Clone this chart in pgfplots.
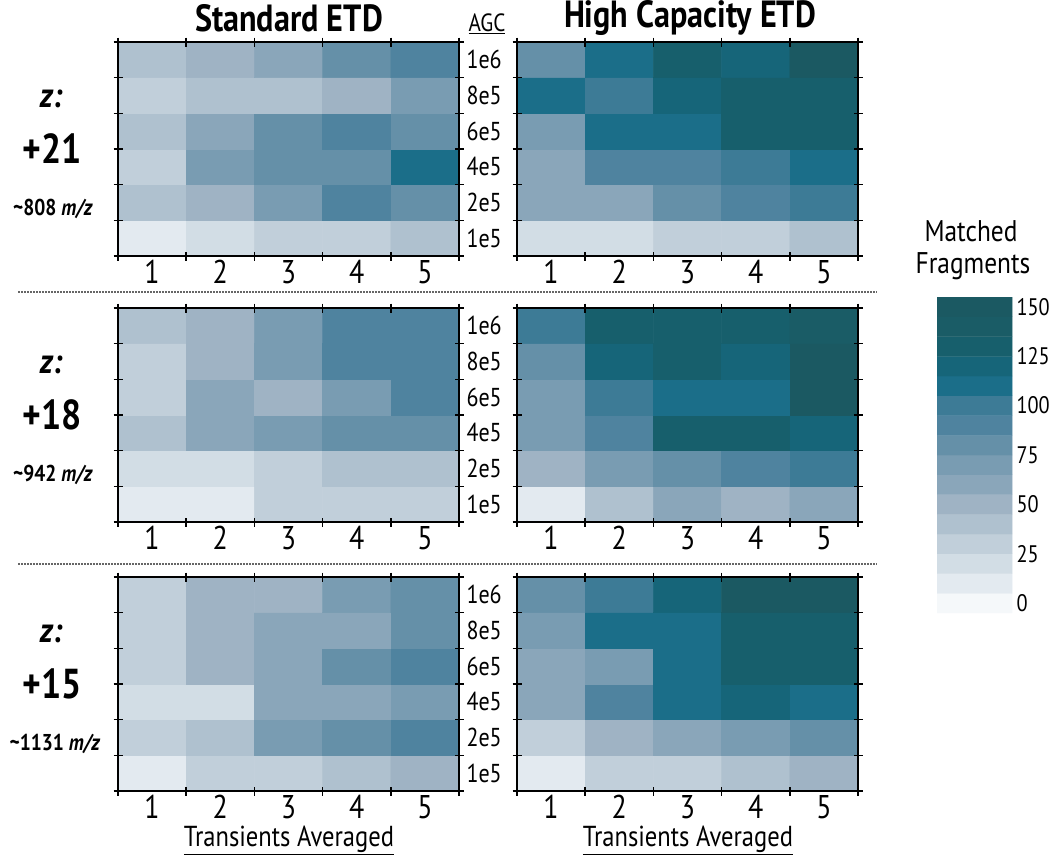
\documentclass[border=0pt]{standalone}
\usepackage{fontspec}
\setmainfont{PT Sans}[FakeStretch=0.85]
\usepackage{pgfplots}
\pgfplotsset{compat=1.18}

\pgfplotsset{
  fragcm/.style={
    colormap={frag}{rgb255=(245,248,250) rgb255=(227,234,240) rgb255=(210,221,229)
      rgb255=(193,207,218) rgb255=(175,193,207) rgb255=(159,179,196) rgb255=(138,166,186)
      rgb255=(121,156,178) rgb255=(101,144,168) rgb255=(79,131,159) rgb255=(61,123,150)
      rgb255=(27,110,137) rgb255=(22,101,121) rgb255=(23,95,108) rgb255=(26,92,102)
      rgb255=(27,89,98)},
    point meta min=0, point meta max=150,
  },
  hm/.style={
    fragcm,
    scale only axis, width=341bp, height=214bp,
    xmin=0.5, xmax=5.5, ymin=-0.5, ymax=5.5,
    axis on top,
    axis line style={line width=2.4bp},
    xtick={1,2,3,4,5}, xticklabels={1,2,3,4,5},
    ytick={0,1,2,3,4,5},
    minor xtick={0.5,1.5,2.5,3.5,4.5,5.5},
    minor ytick={-0.5,0.5,1.5,2.5,3.5,4.5,5.5},
    major tick length=0pt, minor tick length=9bp,
    tick align=center,
    every minor tick/.style={line width=1.6bp, black},
    /pgf/number format/assume math mode=true,
    xticklabel style={font=\fontsize{33}{33}\selectfont, yshift=-1bp},
    yticklabel style={font=\fontsize{26}{26}\selectfont},
  },
  leftp/.style={hm, yticklabels={1e5,2e5,4e5,6e5,8e5,1e6}, yticklabel pos=right,
    yticklabel style={xshift=4bp}},
  rightp/.style={hm, yticklabels={}},
  cells/.style={matrix plot*, mesh/cols=5, point meta=explicit},
}

\newcommand\zlab[4]{%
  \node[font=\fontsize{35}{35}\selectfont\bfseries\itshape] at (51bp,-#1bp-57bp) {z:};
  \node[font=\fontsize{42}{42}\selectfont\bfseries] at (52bp,-#1bp-107bp) {#2};
  \node[font=\fontsize{23}{23}\selectfont\bfseries] at (#4bp,-#1bp-167bp) {\textasciitilde#3 \textit{m/z}};
}

\begin{document}
\begin{tikzpicture}
\path[use as bounding box] (0,0) rectangle (1050bp,-858bp);

% ---------- Row 1: z = +21 ----------
\begin{axis}[leftp, at={(118bp,-256bp)}, anchor=south west]
\addplot[cells] coordinates {
(1,0)[10] (2,0)[20] (3,0)[30] (4,0)[30] (5,0)[40]
(1,1)[40] (2,1)[50] (3,1)[70] (4,1)[90] (5,1)[80]
(1,2)[30] (2,2)[70] (3,2)[80] (4,2)[80] (5,2)[110]
(1,3)[40] (2,3)[60] (3,3)[80] (4,3)[90] (5,3)[80]
(1,4)[30] (2,4)[40] (3,4)[40] (4,4)[50] (5,4)[70]
(1,5)[40] (2,5)[50] (3,5)[60] (4,5)[80] (5,5)[90]
};
\end{axis}
\begin{axis}[rightp, at={(517bp,-256bp)}, anchor=south west]
\addplot[cells] coordinates {
(1,0)[20] (2,0)[20] (3,0)[30] (4,0)[30] (5,0)[40]
(1,1)[60] (2,1)[60] (3,1)[80] (4,1)[90] (5,1)[100]
(1,2)[60] (2,2)[90] (3,2)[90] (4,2)[100] (5,2)[110]
(1,3)[70] (2,3)[110] (3,3)[110] (4,3)[130] (5,3)[130]
(1,4)[110] (2,4)[100] (3,4)[120] (4,4)[130] (5,4)[130]
(1,5)[80] (2,5)[110] (3,5)[130] (4,5)[120] (5,5)[150]
};
\end{axis}

% ---------- Row 2: z = +18 ----------
\begin{axis}[leftp, at={(118bp,-522bp)}, anchor=south west]
\addplot[cells] coordinates {
(1,0)[10] (2,0)[10] (3,0)[30] (4,0)[30] (5,0)[30]
(1,1)[20] (2,1)[20] (3,1)[30] (4,1)[40] (5,1)[40]
(1,2)[40] (2,2)[60] (3,2)[70] (4,2)[80] (5,2)[80]
(1,3)[30] (2,3)[60] (3,3)[50] (4,3)[70] (5,3)[90]
(1,4)[30] (2,4)[50] (3,4)[70] (4,4)[90] (5,4)[90]
(1,5)[40] (2,5)[50] (3,5)[70] (4,5)[90] (5,5)[90]
};
\end{axis}
\begin{axis}[rightp, at={(517bp,-522bp)}, anchor=south west]
\addplot[cells] coordinates {
(1,0)[10] (2,0)[40] (3,0)[60] (4,0)[50] (5,0)[60]
(1,1)[50] (2,1)[70] (3,1)[80] (4,1)[90] (5,1)[100]
(1,2)[70] (2,2)[90] (3,2)[130] (4,2)[130] (5,2)[120]
(1,3)[70] (2,3)[100] (3,3)[110] (4,3)[110] (5,3)[150]
(1,4)[80] (2,4)[120] (3,4)[130] (4,4)[120] (5,4)[150]
(1,5)[100] (2,5)[130] (3,5)[130] (4,5)[130] (5,5)[140]
};
\end{axis}

% ---------- Row 3: z = +15 ----------
\begin{axis}[leftp, at={(118bp,-791bp)}, anchor=south west]
\addplot[cells] coordinates {
(1,0)[10] (2,0)[30] (3,0)[30] (4,0)[40] (5,0)[50]
(1,1)[30] (2,1)[40] (3,1)[70] (4,1)[80] (5,1)[90]
(1,2)[20] (2,2)[20] (3,2)[60] (4,2)[60] (5,2)[70]
(1,3)[30] (2,3)[50] (3,3)[60] (4,3)[80] (5,3)[90]
(1,4)[30] (2,4)[50] (3,4)[60] (4,4)[60] (5,4)[80]
(1,5)[30] (2,5)[50] (3,5)[50] (4,5)[70] (5,5)[80]
};
\end{axis}
\begin{axis}[rightp, at={(517bp,-791bp)}, anchor=south west]
\addplot[cells] coordinates {
(1,0)[10] (2,0)[30] (3,0)[30] (4,0)[40] (5,0)[50]
(1,1)[30] (2,1)[50] (3,1)[60] (4,1)[70] (5,1)[80]
(1,2)[60] (2,2)[90] (3,2)[110] (4,2)[120] (5,2)[110]
(1,3)[60] (2,3)[70] (3,3)[110] (4,3)[130] (5,3)[130]
(1,4)[70] (2,4)[110] (3,4)[110] (4,4)[130] (5,4)[130]
(1,5)[80] (2,5)[100] (3,5)[120] (4,5)[150] (5,5)[150]
};
\end{axis}

% ---------- colour scale ----------
\begin{axis}[fragcm, scale only axis, width=75bp, height=316bp,
  at={(937bp,-613bp)}, anchor=south west,
  xmin=-0.5, xmax=0.5, ymin=-5, ymax=155,
  axis line style={draw=none}, xtick=\empty,
  ytick={0,25,50,75,100,125,150}, major tick length=0pt,
  yticklabel pos=right,
  /pgf/number format/assume math mode=true,
  yticklabel style={font=\fontsize{24}{24}\selectfont, xshift=1bp}]
\addplot[matrix plot*, mesh/cols=2, point meta=explicit] coordinates {
(0,0)[0] (1,0)[0]
(0,10)[10] (1,10)[10]
(0,20)[20] (1,20)[20]
(0,30)[30] (1,30)[30]
(0,40)[40] (1,40)[40]
(0,50)[50] (1,50)[50]
(0,60)[60] (1,60)[60]
(0,70)[70] (1,70)[70]
(0,80)[80] (1,80)[80]
(0,90)[90] (1,90)[90]
(0,100)[100] (1,100)[100]
(0,110)[110] (1,110)[110]
(0,120)[120] (1,120)[120]
(0,130)[130] (1,130)[130]
(0,140)[140] (1,140)[140]
(0,150)[150] (1,150)[150]
};
\end{axis}

% ---------- text ----------
\node[font=\fontsize{38}{38}\selectfont\bfseries] at (289bp,-18bp) {Standard ETD};
\node[font=\fontsize{38}{38}\selectfont\bfseries] at (690bp,-18bp) {High Capacity ETD};
\node[font=\fontsize{25}{25}\selectfont] at (487bp,-24bp) {\underline{AGC}};

\zlab{42}{+21}{808}{53}
\zlab{308}{+18}{942}{53}
\zlab{577}{+15}{1131}{55}

\draw[gray!80!black, line width=1.3bp, dash pattern=on 1.5bp off 1.5bp] (18bp,-292bp) -- (877bp,-292bp);
\draw[gray!80!black, line width=1.3bp, dash pattern=on 1.5bp off 1.5bp] (18bp,-564bp) -- (877bp,-564bp);

\node[font=\fontsize{29}{29}\selectfont] at (289bp,-840bp) {\underline{Transients Averaged}};
\node[font=\fontsize{29}{29}\selectfont] at (688bp,-840bp) {\underline{Transients Averaged}};

\node[font=\fontsize{30}{30}\selectfont] at (971bp,-231bp) {Matched};
\node[font=\fontsize{30}{30}\selectfont] at (973bp,-266bp) {Fragments};
\end{tikzpicture}
\end{document}
